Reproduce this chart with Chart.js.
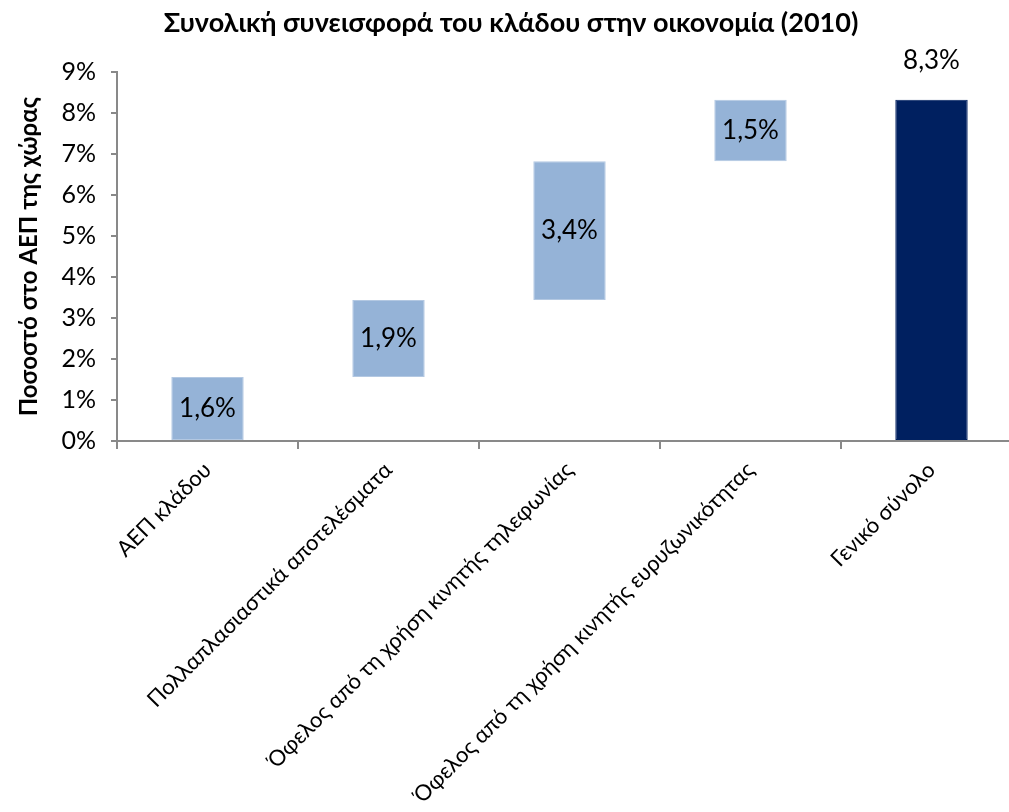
<!DOCTYPE html>
<html lang="el">
<head>
<meta charset="utf-8">
<title>Συνολική συνεισφορά του κλάδου στην οικονομία (2010)</title>
<script src="https://cdn.jsdelivr.net/npm/chart.js@4/dist/chart.umd.min.js"></script>
<style>
  html, body { margin: 0; padding: 0; background: #fff; overflow: hidden; }
  #wrap { width: 1022px; height: 812px; }
</style>
</head>
<body>
<div id="wrap"><canvas id="chart" width="1022" height="812"></canvas></div>
<script>
// Καταρράκτης: συνεισφορά στο ΑΕΠ (%), τιμές διαβασμένες από το γράφημα
const categories = [
  'ΑΕΠ κλάδου',
  'Πολλαπλασιαστικά αποτελέσματα',
  'Όφελος από τη χρήση κινητής τηλεφωνίας',
  'Όφελος από τη χρήση κινητής ευρυζωνικότητας',
  'Γενικό σύνολο',
];
const barBase = [0, 1.56, 3.44, 6.83, 0];
const barTop = [1.56, 3.44, 6.83, 8.33, 8.33];
const valueLabels = ['1,6%', '1,9%', '3,4%', '1,5%', '8,3%'];
const yTickValues = [0, 1, 2, 3, 4, 5, 6, 7, 8, 9];
const barColors = ['#95B3D7', '#95B3D7', '#95B3D7', '#95B3D7', '#002060'];

const FONT = 'Lato, "Open Sans", sans-serif';
const AXIS = '#898989';

// ετικέτες τιμών: μέσα στις μπάρες, πάνω από το σύνολο
const valueLabelPlugin = {
  id: 'valueLabels',
  afterDatasetsDraw(chart) {
    const ctx = chart.ctx;
    const bars = chart.getDatasetMeta(0).data;
    ctx.save();
    ctx.font = '26px ' + FONT;
    ctx.fillStyle = '#000';
    ctx.textAlign = 'center';
    ctx.textBaseline = 'middle';
    bars.forEach((bar, i) => {
      const { x, y, base } = bar.getProps(['x', 'y', 'base'], true);
      const last = i === bars.length - 1;
      ctx.fillText(valueLabels[i], x, last ? y - 39 : (y + base) / 2);
    });
    ctx.restore();
  },
};

new Chart(document.getElementById('chart'), {
  type: 'bar',
  data: {
    labels: categories,
    datasets: [{
      data: barBase.map((b, i) => [b, barTop[i]]),
      backgroundColor: barColors,
      borderColor: barColors.map(c => c === '#95B3D7' ? '#B3C8E2' : c),
      borderWidth: 1,
      borderSkipped: false,
      categoryPercentage: 1,
      barPercentage: 0.4,
    }],
  },
  options: {
    responsive: false,
    animation: false,
    layout: { padding: 0 },
    plugins: {
      legend: { display: false },
      tooltip: { enabled: false },
      title: {
        display: true,
        text: 'Συνολική συνεισφορά του κλάδου στην οικονομία (2010)',
        color: '#000',
        font: { family: FONT, size: 27, weight: 'bold' },
        padding: { top: 7, bottom: 33 },
      },
    },
    scales: {
      x: {
        grid: {
          offset: true,
          drawOnChartArea: false,
          color: AXIS,
          lineWidth: 2,
          tickLength: 8,
        },
        border: { color: AXIS, width: 2 },
        ticks: {
          color: '#000',
          font: { family: FONT, size: 22 },
          minRotation: 45,
          maxRotation: 45,
          padding: 8,
          autoSkip: false,
        },
        afterFit(scale) { scale.height = 371; },
      },
      y: {
        min: 0,
        max: 9,
        afterBuildTicks(scale) { scale.ticks = yTickValues.map(v => ({ value: v })); },
        grid: {
          drawOnChartArea: false,
          color: AXIS,
          lineWidth: 2,
          tickLength: 6,
        },
        border: { color: AXIS, width: 2 },
        ticks: {
          color: '#000',
          font: { family: FONT, size: 25 },
          padding: 15,
          callback: v => v + '%',
        },
        title: {
          display: true,
          text: 'Ποσοστό στο ΑΕΠ της χώρας',
          color: '#000',
          font: { family: FONT, size: 24, weight: 'bold' },
          padding: { top: 15, bottom: 0 },
        },
        afterFit(scale) { scale.width = 117; },
      },
    },
  },
  plugins: [valueLabelPlugin],
});
</script>
</body>
</html>
